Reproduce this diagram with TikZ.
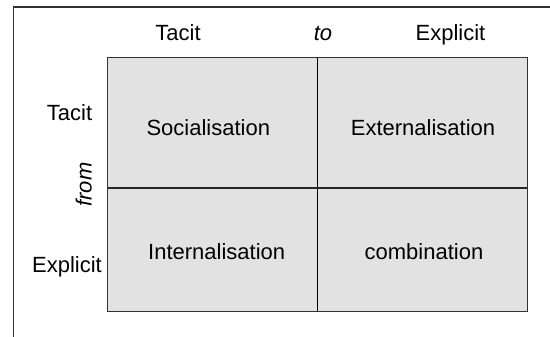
\documentclass[tikz,border=0pt]{standalone}
\usepackage{fontspec}
\setmainfont{Liberation Sans}
\definecolor{cellfill}{HTML}{E2E2E2}
\definecolor{framegray}{HTML}{333333}
\begin{document}
\begin{tikzpicture}[x=1pt,y=-1pt,
  lbl/.style={inner sep=0pt,anchor=base,font=\fontsize{22}{26}\selectfont},
  ilbl/.style={lbl,font=\fontsize{22}{26}\selectfont\itshape}]
\useasboundingbox (0,0) rectangle (550,337);
% outer frame
\coordinate (fb) at (13.5,337);
\coordinate (fc) at (13.5,6.8);
\coordinate (fr) at (550,6.8);
\draw[framegray,line width=1.5pt] (fb) -- (fc) -- (fr);
% grid
\coordinate (g1) at (107.5,57.5);
\coordinate (g2) at (527.5,311.5);
\coordinate (vt) at (317.3,57.5);
\coordinate (vb) at (317.3,311.5);
\coordinate (hl) at (107.5,188);
\coordinate (hr) at (527.5,188);
\fill[cellfill] (g1) rectangle (g2);
\draw[black,line width=1pt] (vt) -- (vb);
\draw[black!85,line width=1.2pt] (hl) -- (hr);
\draw[framegray,line width=1.3pt] (g1) rectangle (g2);
% header labels
\node[lbl] (tt) at (178,40.7) {Tacit};
\node[ilbl] (to) at (323,40.7) {to};
\node[lbl] (te) at (450.5,40.7) {Explicit};
\node[lbl] (lt) at (69.5,120.7) {Tacit};
\node[lbl] (le) at (67,272.7) {Explicit};
\node[ilbl,rotate=90] (fr) at (91.7,184.5) {from};
% cells
\node[lbl] (c1) at (208.3,136) {Socialisation};
\node[lbl] (c2) at (423,136) {Externalisation};
\node[lbl] (c3) at (216.7,259.3) {Internalisation};
\node[lbl] (c4) at (424,259.3) {combination};
\end{tikzpicture}
\end{document}
